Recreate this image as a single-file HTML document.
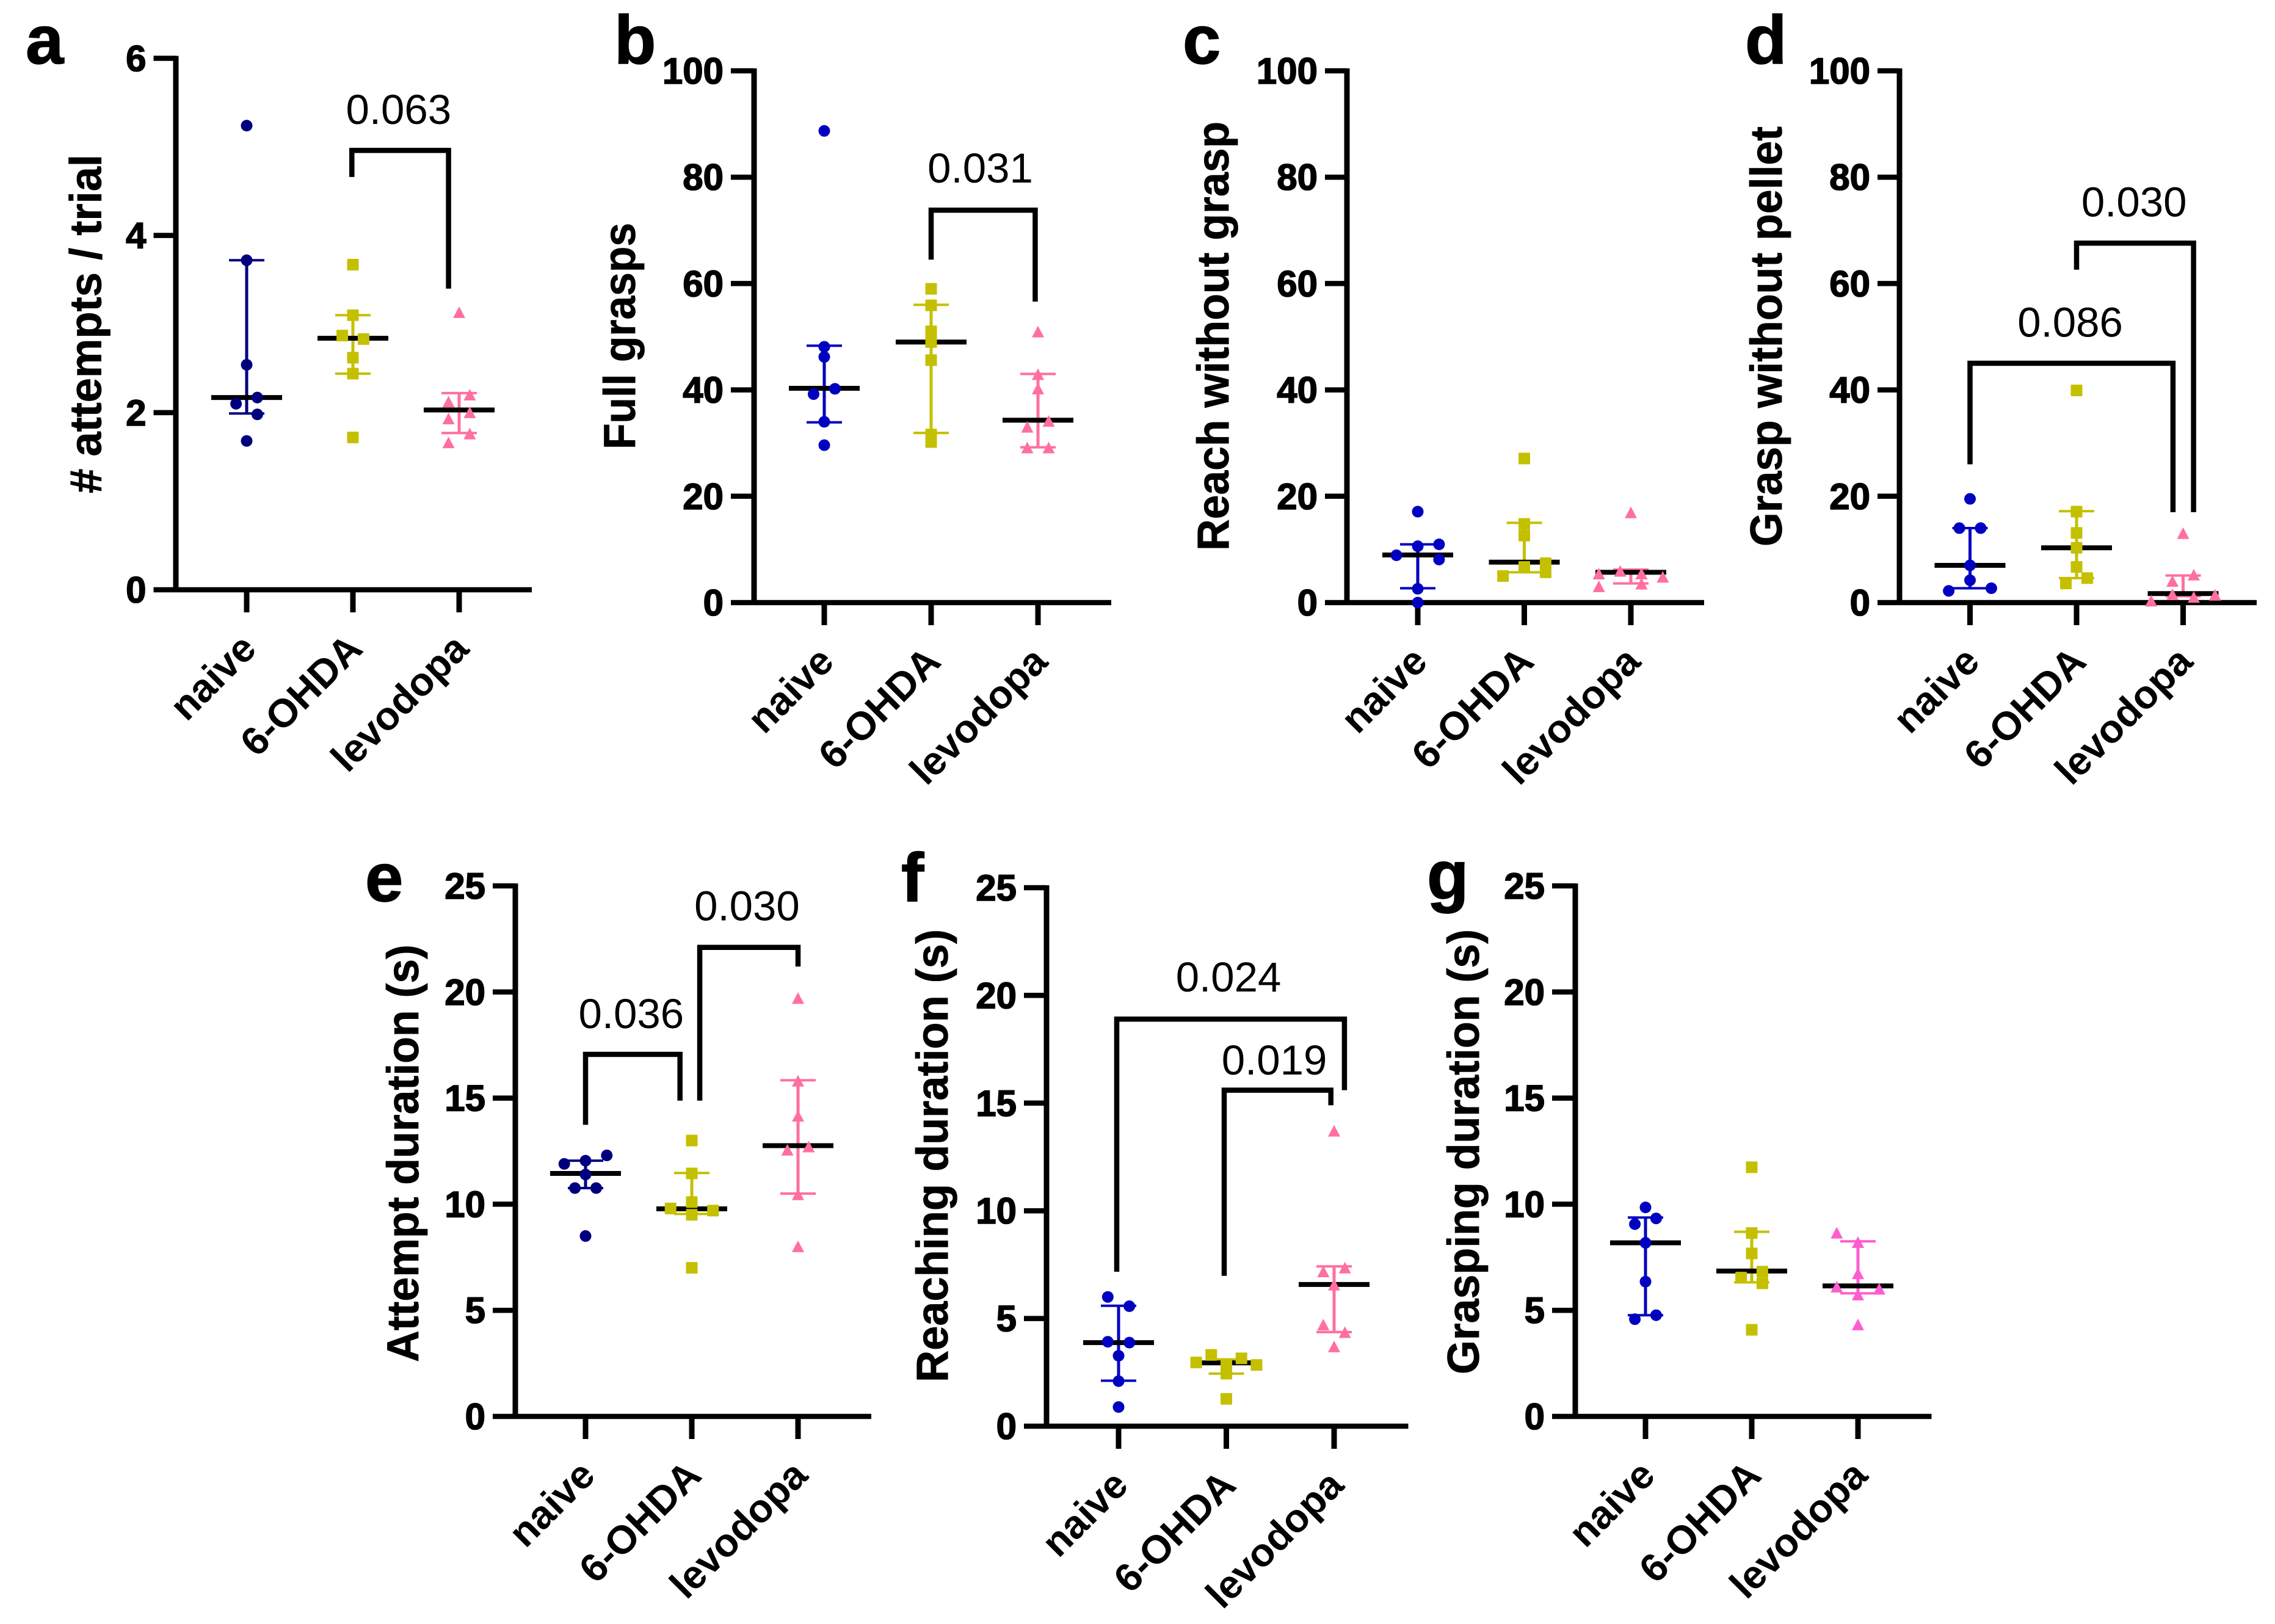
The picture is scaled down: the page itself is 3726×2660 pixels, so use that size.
<!DOCTYPE html>
<html lang="en">
<head>
<meta charset="utf-8">
<title>Behavioural measures across naive, 6-OHDA and levodopa groups</title>
<style>
html,body{margin:0;padding:0;background:#fff;}
svg{display:block;font-family:"Liberation Sans",Arial,sans-serif;}
</style>
</head>
<body>
<svg id="fig" xmlns="http://www.w3.org/2000/svg" width="3726" height="2660" viewBox="0 0 3726 2660"></svg>
<script>
const categories = ['naive', '6-OHDA', 'levodopa'];

/* Panel a */
const aTicks = [0, 2, 4, 6];
const aNaive = [5.24, 3.72, 2.54, 2.17, 2.10, 1.98, 1.68];
const aNaiveJitter = [0, 0, 0, 1, -1, 1, 0];
const aNaiveStats = [2.17, 1.99, 3.72];
const aLesion = [3.67, 3.10, 2.87, 2.83, 2.62, 2.44, 1.72];
const aLesionJitter = [0, 0, -1, 1, 0, 0, 0];
const aLesionStats = [2.84, 2.44, 3.10];
const aLevo = [3.13, 2.20, 2.12, 2.00, 1.93, 1.76, 1.66];
const aLevoJitter = [0, 1, -1, 1, -1, 1, -1];
const aLevoStats = [2.03, 1.77, 2.22];

/* Panel b */
const bTicks = [0, 20, 40, 60, 80, 100];
const bNaive = [88.7, 48.1, 46.2, 40.2, 39.2, 34.0, 29.6];
const bNaiveJitter = [0, 0, 0, 1, -1, 0, 0];
const bNaiveStats = [40.3, 33.9, 48.3];
const bLesion = [59.0, 55.9, 51.0, 49.0, 45.6, 31.6, 30.2];
const bLesionJitter = [0, 0, 0, 0, 0, 0, 0];
const bLesionStats = [49.0, 31.9, 56.0];
const bLevo = [50.9, 42.9, 40.2, 34.1, 33.0, 29.1, 29.1];
const bLevoJitter = [0, 0, 0, 1, -1, -1, 1];
const bLevoStats = [34.3, 29.2, 43.0];

/* Panel c */
const cTicks = [0, 20, 40, 60, 80, 100];
const cNaive = [17.1, 10.95, 10.6, 8.9, 8.1, 2.6, 0];
const cNaiveJitter = [0, 2, 0, -2, 2, 0, 0];
const cNaiveStats = [8.95, 2.7, 10.95];
const cLesion = [27.1, 14.8, 12.6, 7.4, 6.7, 5.7, 5.0];
const cLesionJitter = [0, 0, 0, 2, 0, 2, -2];
const cLesionStats = [7.6, 5.7, 15.0];
const cLevo = [16.9, 5.9, 5.4, 5.4, 4.8, 3.0, 3.5];
const cLevoJitter = [0, -1, -3, 1, 3, -3, 1];
const cLevoStats = [5.7, 3.6, 6.2];

/* Panel d */
const dTicks = [0, 20, 40, 60, 80, 100];
const dNaive = [19.5, 14.0, 14.0, 7.0, 4.2, 2.7, 2.2];
const dNaiveJitter = [0, -1, 1, 0, 0, 2, -2];
const dNaiveStats = [7.0, 2.7, 14.0];
const dLesion = [39.9, 17.1, 13.1, 10.3, 6.7, 4.6, 3.6];
const dLesionJitter = [0, 0, 0, 0, 0, 1, -1];
const dLesionStats = [10.3, 4.6, 17.2];
const dLevo = [13.0, 5.2, 4.0, 1.5, 1.0, 1.4, 0.3];
const dLevoJitter = [0, 1, -1, -1, 1, 3, -3];
const dLevoStats = [1.7, 1.2, 5.1];

/* Panel e */
const eTicks = [0, 5, 10, 15, 20, 25];
const eNaive = [12.3, 12.05, 11.9, 11.4, 10.76, 10.76, 8.5];
const eNaiveJitter = [2, 0, -2, 0, -1, 1, 0];
const eNaiveStats = [11.45, 10.76, 12.05];
const eLesion = [13.0, 11.45, 10.1, 9.8, 9.7, 9.5, 7.0];
const eLesionJitter = [0, 0, 0, -2, 2, 0, 0];
const eLesionStats = [9.78, 9.54, 11.47];
const eLevo = [19.7, 15.8, 14.15, 12.7, 12.55, 10.45, 8.0];
const eLevoJitter = [0, 0, 0, 1, -1, 0, 0];
const eLevoStats = [12.76, 10.5, 15.84];

/* Panel f */
const fTicks = [0, 5, 10, 15, 20, 25];
const fNaive = [6.0, 5.57, 3.92, 3.88, 3.27, 2.09, 0.89];
const fNaiveJitter = [-1, 1, -1, 1, 0, 0, 0];
const fNaiveStats = [3.88, 2.11, 5.59];
const fLesion = [3.31, 3.15, 2.96, 2.84, 2.87, 2.44, 1.27];
const fLesionJitter = [-1.4, 1.4, -2.8, 2.8, 0, 0, 0];
const fLesionStats = [2.94, 2.44, 3.1];
const fLevo = [13.7, 7.35, 7.17, 6.56, 4.7, 4.35, 3.69];
const fLevoJitter = [0, 1, -1, 0, -1, 1, 0];
const fLevoStats = [6.58, 4.37, 7.42];

/* Panel g */
const gTicks = [0, 5, 10, 15, 20, 25];
const gNaive = [9.85, 9.33, 9.06, 8.18, 6.35, 4.77, 4.58];
const gNaiveJitter = [0, 1, -1, 0, 0, 1, -1];
const gNaiveStats = [8.18, 4.77, 9.37];
const gLesion = [11.74, 8.64, 7.68, 6.82, 6.54, 6.27, 4.08];
const gLesionJitter = [0, 0, 0, 1, -1, 1, 0];
const gLesionStats = [6.85, 6.32, 8.7];
const gLevo = [8.64, 8.2, 6.73, 6.1, 6.0, 5.73, 4.32];
const gLevoJitter = [-2, 0, 0, -2, 2, 0, 0];
const gLevoStats = [6.15, 5.8, 8.25];

/* Significance labels */
const aPValues = ['0.063'];
const bPValues = ['0.031'];
const cPValues = [];
const dPValues = ['0.030', '0.086'];
const ePValues = ['0.036', '0.030'];
const fPValues = ['0.024', '0.019'];
const gPValues = [];

/* Bracket anchors in chart units: from category, to category, top value, left foot value, right foot value, label category, label value */
const aBrackets = [[0.99, 1.9, 4.96, 4.66, 3.40, 1.43, 5.26]];
const bBrackets = [[1, 1.974, 73.8, 64.5, 56.6, 1.46, 79]];
const cBrackets = [];
const dBrackets = [[1, 2.098, 67.6, 62.6, 17, 1.54, 72.6], [0, 1.905, 45, 26, 17, 0.94, 50]];
const eBrackets = [[0, 0.889, 17.06, 13.74, 14.88, 0.43, 18.3], [1.075, 2, 22.1, 14.88, 21.2, 1.52, 23.38]];
const fBrackets = [[-0.017, 2.096, 18.9, 7.17, 15.6, 1.02, 20.18], [0.98, 1.97, 15.6, 6.98, 14.9, 1.445, 16.33]];
const gBrackets = [];

const panels = [
  {id:'a', lx:42, ly:104, axisX:288, top:95.5, zero:966, xEnd:871, tickStart:251.5, cat0:404, step:174, max:6, ticks:aTicks,
   title:'# attempts / trial', tb:165.5, t0:253, t1:808, c1:'#00007f', c2:'#c4c000', c3:'#ff6fa0',
   s:[[aNaive,aNaiveJitter,aNaiveStats],[aLesion,aLesionJitter,aLesionStats],[aLevo,aLevoJitter,aLevoStats]], br:aBrackets, pv:aPValues},
  {id:'b', lx:1006, ly:104, axisX:1235, top:116, zero:987, xEnd:1820, tickStart:1197, cat0:1350, step:175, max:100, ticks:bTicks,
   title:'Full grasps', tb:1040, t0:365, t1:736, c1:'#0000c0', c2:'#c4c000', c3:'#ff6fa0',
   s:[[bNaive,bNaiveJitter,bNaiveStats],[bLesion,bLesionJitter,bLesionStats],[bLevo,bLevoJitter,bLevoStats]], br:bBrackets, pv:bPValues},
  {id:'c', lx:1937, ly:104, axisX:2206, top:116, zero:987, xEnd:2791, tickStart:2170, cat0:2322, step:174.5, max:100, ticks:cTicks,
   title:'Reach without grasp', tb:2012, t0:199, t1:902, c1:'#0000c0', c2:'#c4c000', c3:'#ff6fa0',
   s:[[cNaive,cNaiveJitter,cNaiveStats],[cLesion,cLesionJitter,cLesionStats],[cLevo,cLevoJitter,cLevoStats]], br:cBrackets, pv:cPValues},
  {id:'d', lx:2858, ly:104, axisX:3111, top:116, zero:987, xEnd:3696, tickStart:3075, cat0:3226.5, step:174.5, max:100, ticks:dTicks,
   title:'Grasp without pellet', tb:2918, t0:207, t1:895, c1:'#0000c0', c2:'#c4c000', c3:'#ff6fa0',
   s:[[dNaive,dNaiveJitter,dNaiveStats],[dLesion,dLesionJitter,dLesionStats],[dLevo,dLevoJitter,dLevoStats]], br:dBrackets, pv:dPValues},
  {id:'e', lx:598, ly:1476, axisX:844, top:1451, zero:2320, xEnd:1427, tickStart:807, cat0:959, step:174, max:25, ticks:eTicks,
   title:'Attempt duration (s)', tb:685, t0:1547, t1:2231, c1:'#00007f', c2:'#c4c000', c3:'#ff6fa0',
   s:[[eNaive,eNaiveJitter,eNaiveStats],[eLesion,eLesionJitter,eLesionStats],[eLevo,eLevoJitter,eLevoStats]], br:eBrackets, pv:ePValues},
  {id:'f', lx:1476, ly:1476, axisX:1714, top:1454, zero:2336, xEnd:2306.5, tickStart:1677, cat0:1832, step:176.5, max:25, ticks:fTicks,
   title:'Reaching duration (s)', tb:1552, t0:1522, t1:2264, c1:'#0000c0', c2:'#c4c000', c3:'#ff6fa0',
   s:[[fNaive,fNaiveJitter,fNaiveStats],[fLesion,fLesionJitter,fLesionStats],[fLevo,fLevoJitter,fLevoStats]], br:fBrackets, pv:fPValues},
  {id:'g', lx:2337, ly:1472, axisX:2580, top:1451, zero:2320, xEnd:3163.5, tickStart:2542, cat0:2695, step:174, max:25, ticks:gTicks,
   title:'Grasping duration (s)', tb:2422, t0:1522, t1:2251, c1:'#0000c0', c2:'#c4c000', c3:'#ff5cd0',
   s:[[gNaive,gNaiveJitter,gNaiveStats],[gLesion,gLesionJitter,gLesionStats],[gLevo,gLevoJitter,gLevoStats]], br:gBrackets, pv:gPValues}
];

const NS = 'http://www.w3.org/2000/svg';
const fig = document.getElementById('fig');

function make(parent, tag, attrs, text) {
  const el = document.createElementNS(NS, tag);
  for (const k in attrs) el.setAttribute(k, attrs[k]);
  if (text !== undefined) el.textContent = text;
  parent.appendChild(el);
  return el;
}

function drawMarker(group, shape, cx, cy, color) {
  if (shape === 0) return make(group, 'circle', {cx: cx, cy: cy, r: 9.5, fill: color});
  if (shape === 1) return make(group, 'rect', {x: cx - 9.5, y: cy - 9.5, width: 19, height: 19, rx: 1, fill: color});
  return make(group, 'polygon', {points: (cx - 10) + ',' + (cy + 9) + ' ' + cx + ',' + (cy - 10) + ' ' + (cx + 10) + ',' + (cy + 9), fill: color});
}

panels.forEach(function (p) {
  const yOf = function (v) { return p.zero - (v / p.max) * (p.zero - p.top); };
  const xOf = function (c) { return p.cat0 + c * p.step; };

  const g = make(fig, 'g', {});
  
  

  const letter = make(g, 'text', {x: p.lx, y: p.ly, 'font-size': 112, 'font-weight': 700, fill: '#000', stroke: '#000', 'stroke-width': 1.5}, p.id);
  
  

  const title = make(g, 'text', {
    transform: 'translate(' + p.tb + ',' + ((p.t0 + p.t1) / 2) + ') rotate(-90)',
    'text-anchor': 'middle', 'font-size': 73, 'font-weight': 700, fill: '#000', stroke: '#000', 'stroke-width': 0.8,
    textLength: p.t1 - p.t0, lengthAdjust: 'spacingAndGlyphs'
  }, p.title);
  
  

  const yAxis = make(g, 'line', {x1: p.axisX, x2: p.axisX, y1: p.top - 4, y2: p.zero + 4, stroke: '#000', 'stroke-width': 9});
  
  

  const xAxis = make(g, 'line', {x1: p.tickStart, x2: p.xEnd, y1: p.zero, y2: p.zero, stroke: '#000', 'stroke-width': 8.5});
  
  

  p.ticks.forEach(function (t) {
    const y = yOf(t);
    if (t !== 0) {
      const tick = make(g, 'line', {x1: p.tickStart, x2: p.axisX, y1: y, y2: y, stroke: '#000', 'stroke-width': 8.5});
      
      
    }
    const label = make(g, 'text', {x: p.tickStart - 12, y: y + 21, 'text-anchor': 'end', 'font-size': 60, 'font-weight': 700, fill: '#000', stroke: '#000', 'stroke-width': 1.6}, String(t));
    
    
  });

  categories.forEach(function (name, i) {
    const cx = xOf(i);
    const tick = make(g, 'line', {x1: cx, x2: cx, y1: p.zero, y2: p.zero + 37, stroke: '#000', 'stroke-width': 9});
    
    

    const lx = cx + 19;
    const ly = p.zero + 100;
    const label = make(g, 'text', {
      transform: 'translate(' + lx + ',' + ly + ') rotate(-45)',
      'text-anchor': 'end', 'font-size': 65, 'font-weight': 700, fill: '#000'
    }, name);
    
    

    const color = [p.c1, p.c2, p.c3][i];
    const values = p.s[i][0];
    const jitter = p.s[i][1];
    const stats = p.s[i][2];
    const series = make(g, 'g', {});
    
    

    const stem = make(series, 'line', {x1: cx, x2: cx, y1: yOf(stats[2]), y2: yOf(stats[1]), stroke: color, 'stroke-width': 5});
    
    
    [stats[1], stats[2]].forEach(function (v) {
      const cap = make(series, 'line', {x1: cx - 29, x2: cx + 29, y1: yOf(v), y2: yOf(v), stroke: color, 'stroke-width': 4});
      
      
    });

    const median = make(series, 'line', {x1: cx - 58, x2: cx + 58, y1: yOf(stats[0]), y2: yOf(stats[0]), stroke: '#000', 'stroke-width': 8});
    
    

    values.forEach(function (v, k) {
      const mark = drawMarker(series, i, xOf(i + jitter[k] * 0.1), yOf(v), color);
      
      
    });
  });

  p.br.forEach(function (b, k) {
    const path = make(g, 'polyline', {
      points: [xOf(b[0]), yOf(b[3]), xOf(b[0]), yOf(b[2]), xOf(b[1]), yOf(b[2]), xOf(b[1]), yOf(b[4])].join(' '),
      fill: 'none', stroke: '#000', 'stroke-width': 8.5
    });
    
    

    const pLabel = make(g, 'text', {x: xOf(b[5]), y: yOf(b[6]), 'text-anchor': 'middle', 'font-size': 69, fill: '#000'}, p.pv[k]);
    
    
  });
});
</script>
</body>
</html>
